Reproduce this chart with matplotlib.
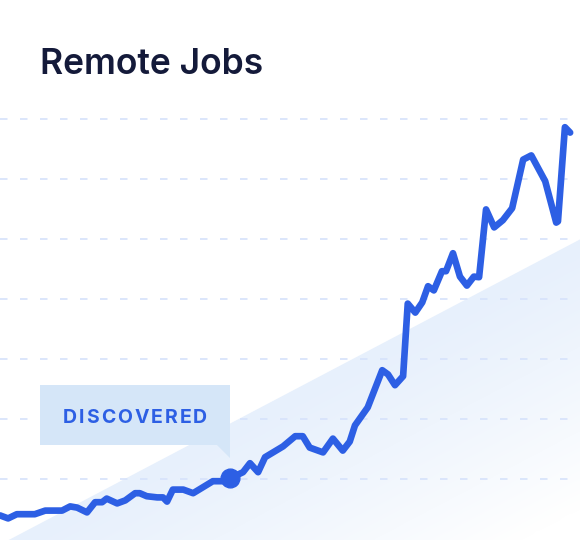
import numpy as np
import matplotlib
matplotlib.use("Agg")
import matplotlib.pyplot as plt
from matplotlib.patches import Polygon, Rectangle

# datos (eje x: tiempo 0-100, eje y: indice de ofertas)
t = [0, 1.4, 2.9, 6.0, 7.8, 10.7, 12.1, 13.3, 15.0, 16.4, 17.6, 18.4, 20.2, 21.6,
     23.3, 24.1, 25.3, 27.1, 28.1, 28.8, 29.8, 31.6, 33.3, 36.7, 38.3, 39.7, 41.9,
     43.1, 44.5, 45.7, 48.8, 50.9, 52.2, 53.4, 55.7, 57.4, 59.1, 60.3, 61.2, 63.4,
     65.9, 66.9, 68.1, 69.5, 70.3, 71.6, 72.8, 73.8, 74.8, 76.2, 76.9, 78.1, 79.3,
     80.5, 81.7, 82.6, 83.8, 85.2, 86.7, 88.3, 90.2, 91.6, 94.0, 95.9, 96.2, 97.4, 98.3]
jobs = [4.0, 3.5, 4.2, 4.2, 4.8, 4.8, 5.5, 5.3, 4.5, 6.2, 6.2, 6.8, 6.0, 6.5,
        7.7, 7.7, 7.2, 7.0, 7.0, 6.3, 8.3, 8.3, 7.7, 9.7, 9.7, 10.2, 11.2,
        12.7, 11.2, 13.7, 15.5, 17.2, 17.2, 15.3, 14.5, 16.8, 14.8, 16.3, 19.0, 22.0,
        28.2, 27.5, 25.7, 27.2, 39.3, 37.8, 39.5, 42.2, 41.5, 44.7, 44.7, 47.7, 43.8,
        42.3, 43.8, 43.7, 55.0, 52.0, 53.2, 55.2, 63.3, 64.0, 59.7, 52.8, 53.0, 68.7, 67.8]
niveles = [10, 20, 30, 40, 50, 60, 70]
tendencia_t = [1.7, 100]
tendencia_y = [0, 50]
idx_descubierto = 25
etiqueta = "DISCOVERED"

azul = "#2d5fe4"

fig = plt.figure(figsize=(5.8, 5.4), dpi=100)
ax = fig.add_axes([0, 0, 1, 1])
ax.set_xlim(0, 100)
ax.set_ylim(-0.1, 89.9)
ax.axis("off")

# area triangular con degradado
pend = (tendencia_y[1] - tendencia_y[0]) / (tendencia_t[1] - tendencia_t[0])
base = tendencia_y[0] - 2
x_base = tendencia_t[0] - 2 / pend
tri = Polygon([(x_base, base), (tendencia_t[1], tendencia_y[1]), (tendencia_t[1], base)],
              closed=True, facecolor="none", edgecolor="none")
ax.add_patch(tri)
gx, gy = np.meshgrid(np.linspace(0, 100, 300), np.linspace(-2, 52, 300))
# distancia a la hipotenusa, normalizada
d = (tendencia_y[0] + pend * (gx - tendencia_t[0]) - gy) / 45.0
d = np.clip(d, 0, 1) ** 1.2
c0 = np.array([0xe7, 0xf0, 0xfc]) / 255
c1 = np.array([1.0, 1.0, 1.0])
img = c0[None, None, :] * (1 - d[..., None]) + c1[None, None, :] * d[..., None]
im = ax.imshow(img, extent=(0, 100, -2, 52), origin="lower", aspect="auto", zorder=1)
im.set_clip_path(tri)

# lineas de referencia
for n in niveles:
    ax.axhline(n, color="#d6e2fb", lw=1.2, dashes=(4.5, 7.5), zorder=2)

ax.plot(t, jobs, color=azul, lw=4.8, solid_capstyle="round", solid_joinstyle="round", zorder=4)
ax.plot(t[idx_descubierto], jobs[idx_descubierto], "o", color=azul, ms=13.5, zorder=5)

# globo "DISCOVERED"
xd, yd = t[idx_descubierto], jobs[idx_descubierto]
caja = "#d5e6f8"
ax.add_patch(Rectangle((xd - 32.8, yd + 5.5), 32.8, 10.0, facecolor=caja, edgecolor="none", zorder=3))
ax.add_patch(Polygon([(xd - 2.3, yd + 5.5), (xd, yd + 5.5), (xd, yd + 3.3)],
                     closed=True, facecolor=caja, edgecolor="none", zorder=3))

fig.canvas.draw()
r = fig.canvas.get_renderer()
fp = dict(family=["Inter", "DejaVu Sans"], weight="bold", size=14, color=azul)
anchos = []
for ch in etiqueta:
    tt = fig.text(0, 0, ch, **fp)
    anchos.append(tt.get_window_extent(r).width)
    tt.remove()
total = 144.0
esp = (total - sum(anchos)) / (len(etiqueta) - 1)
x0 = 135.0 - total / 2
for ch, w in zip(etiqueta, anchos):
    fig.text(x0 / 580, 1 - 416 / 540, ch, ha="left", va="center_baseline", **fp)
    x0 += w + esp

fig.text(40 / 580, 1 - 74 / 540, "Remote Jobs", ha="left", va="baseline",
         family=["Inter", "DejaVu Sans"], weight="semibold", fontsize=25.5, color="#141a3a")

fig.savefig("out.png", dpi=100, facecolor="white")
